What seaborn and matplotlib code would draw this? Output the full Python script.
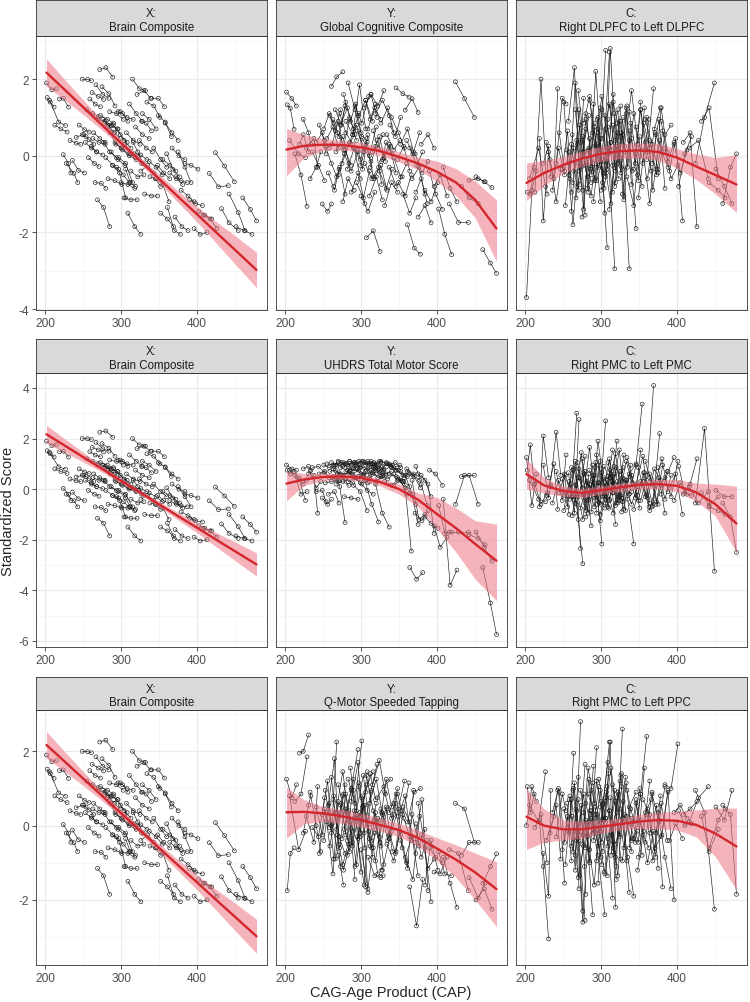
import numpy as np
import pandas as pd
import matplotlib
matplotlib.use("Agg")
import matplotlib.pyplot as plt
from matplotlib.ticker import MultipleLocator
import seaborn as sns

# CAP at each visit, one list per subject (shared by all measures)
cap = [[202,209,215],[203,207,212],[206,218,227],[213,221,229],[219,224,231],
       [224,231,234],[228,238,243],[233,241,247],[236,244,252],[241,249,254],
       [245,252,258],[249,256,261],[251,258,264],[253,261,268],[255,263,270],
       [257,265,271],[259,266,273],[261,268,276],[262,270,277],[264,272,279],
       [266,274,280],[267,276,284],[269,277,285],[270,279,287],[272,280,289],
       [273,282,290],[275,284,292],[277,285,294],[278,287,296],[280,289,297],
       [282,291,299],[283,292,301],[285,294,303],[287,296,305],[289,298,306],
       [290,299,308],[292,301,310],[294,303,311],[295,304,313],[297,306,315],
       [299,308,316],[300,309,318],[302,311,320],[304,313,321],[305,314,323],
       [307,316,325],[309,318,326],[311,320,328],[313,322,330],[315,324,332],
       [317,326,334],[319,328,337],[321,330,339],[324,333,341],[326,335,343],
       [328,337,346],[331,340,348],[334,343,351],[337,346,354],[340,349,357],
       [343,352,360],[346,355,363],[349,358,366],[352,361,369],[355,364,372],
       [358,367,375],[361,370,378],[364,373,381],[367,376,384],[371,380,388],
       [375,384,392],[379,388,396],[384,392,401],[390,398,407],[396,404,413],
       [402,410,419],[408,417,426],[416,428,441],[424,436,449],[432,442,454],
       [442,454,463],[451,462,472],[460,470,478],[263,271,279],[276,283,291],
       [286,293,300],[296,302,309],[306,312,319],[316,322,329],[327,333,340],
       [338,345,352],[348,356,364],[360,368,377],[372,379,387],[312,319,327]]

brain = [[1.90,1.72,1.75],[1.52,1.40,1.27],[1.45,0.88,0.79],[0.80,0.70,0.62],[1.48,1.50,1.27],
         [0.03,-0.20,-0.45],[-0.20,-0.46,-0.70],[0.40,0.33,0.30],[-0.12,-0.38,-0.45],[0.48,0.55,0.50],
         [0.80,0.68,0.62],[2.00,1.99,1.96],[0.55,0.42,0.30],[0.35,0.20,0.10],[1.20,1.10,1.02],
         [-0.05,-0.20,-0.28],[1.48,1.35,1.28],[0.25,0.10,0.02],[1.65,1.55,1.47],[0.60,0.45,0.35],
         [-0.70,-0.72,-0.85],[1.85,1.60,1.50],[-1.15,-1.35,-1.85],[0.95,0.90,0.80],[2.25,2.30,2.05],
         [1.05,0.95,0.85],[1.80,1.62,1.30],[0.35,0.10,-0.05],[0.85,0.78,0.70],[-0.05,-0.25,-0.35],
         [0.75,0.60,0.45],[-0.60,-0.65,-0.75],[1.15,1.10,0.95],[0.10,-0.10,-0.25],[-0.25,-0.45,-1.10],
         [0.80,0.55,0.35],[0.35,0.20,0.05],[-0.30,-0.50,-0.70],[0.70,0.40,0.20],[-0.05,-0.20,-0.70],
         [1.15,1.00,0.95],[-0.70,-0.75,-0.85],[0.15,0.00,-0.10],[-1.10,-1.15,-1.15],[0.30,0.05,-0.05],
         [0.60,0.40,0.30],[-1.50,-1.85,-2.05],[1.35,1.10,0.90],[-0.40,-0.55,-0.50],[2.00,1.75,1.70],
         [0.05,0.02,-0.10],[0.75,0.55,0.45],[1.60,1.70,1.50],[0.40,0.20,0.10],[-0.40,-0.25,-0.45],
         [1.10,0.95,0.70],[-1.00,-1.05,-1.05],[1.40,1.30,1.00],[-0.15,-0.30,-0.50],[1.50,1.50,1.28],
         [0.20,-0.10,-0.30],[-0.60,-0.75,-1.20],[1.05,0.88,0.50],[-1.50,-1.65,-1.85],[-0.10,-0.25,-0.40],
         [0.85,0.60,0.40],[-1.35,-1.95,-2.05],[-0.45,-0.60,-0.75],[0.20,0.00,-0.10],[-1.60,-1.85,-1.95],
         [0.10,-0.30,-0.70],[-0.90,-1.05,-1.20],[-0.20,-0.25,-0.35],[-1.15,-1.25,-1.30],[-1.90,-2.05,-2.00],
         [-1.45,-1.55,-1.65],[-1.55,-1.65,-1.90],[-0.46,-0.81,-0.78],[0.08,-0.27,-0.68],[-1.38,-1.75,-1.95],
         [-1.00,-1.48,-1.96],[-1.85,-1.95,-2.05],[-1.10,-1.40,-1.70],[0.45,0.35,0.30],[0.95,0.80,0.60],
         [0.60,0.30,0.20],[1.15,1.10,0.90],[-0.35,-0.70,-0.80],[0.35,0.10,-0.20],[0.90,0.85,0.65],
         [-0.55,-0.60,-0.80],[-0.25,-0.45,-0.60],[0.05,-0.35,-0.55],[-0.55,-0.65,-0.70],[0.05,-0.05,-0.20]]

gcog = [[1.66,1.49,1.30],[1.33,1.24,0.69],[0.40,0.05,-0.05],[0.05,-0.50,-1.32],[0.30,0.55,0.10],
        [0.95,0.60,0.30],[0.20,0.45,-0.30],[-0.60,-0.30,0.10],[0.10,-0.25,-0.65],[0.35,0.60,0.05],
        [0.80,0.40,0.20],[-1.26,-1.45,-1.26],[0.70,1.10,0.85],[0.25,-0.20,-0.55],[0.45,0.75,0.20],
        [-0.45,-0.90,-0.35],[1.05,0.65,1.20],[1.81,2.06,2.19],[0.30,0.90,0.15],[-0.80,-0.30,-1.00],
        [1.20,0.80,1.40],[0.10,0.50,-0.20],[0.60,0.25,0.95],[-0.50,0.15,-0.25],[1.10,0.60,0.30],
        [0.80,1.25,0.70],[-0.20,0.30,0.55],[1.60,1.00,0.40],[0.05,-0.40,0.10],[0.90,0.55,1.10],
        [-0.35,0.20,-0.60],[1.90,1.20,0.50],[0.35,0.80,0.10],[-0.95,-0.45,-1.25],[0.55,1.85,0.70],
        [0.20,-0.10,0.45],[1.30,0.85,1.55],[-0.70,-1.10,-0.40],[0.65,0.20,-0.15],[1.05,1.45,0.90],
        [-0.25,0.35,-0.55],[-1.05,-1.45,-0.95],[0.45,0.00,0.75],[1.25,1.60,1.00],[-0.20,-0.60,-0.30],
        [-2.14,-1.96,-2.50],[0.70,1.25,0.95],[-1.05,-0.55,-1.15],[1.60,1.30,1.70],[0.10,0.50,-0.15],
        [-0.60,-0.25,-0.90],[1.10,1.45,1.05],[0.40,-0.05,0.25],[-0.40,-0.85,-0.35],[0.85,1.25,0.60],
        [-0.10,0.30,-0.45],[-1.30,-0.70,-0.95],[0.55,0.15,0.40],[-0.30,-0.80,-0.55],[1.00,0.60,0.20],
        [-0.05,-0.55,-0.20],[1.77,1.62,1.53],[-0.70,-1.05,-0.50],[0.30,0.70,0.10],[-1.00,-1.50,-1.10],
        [1.19,1.49,1.13],[-1.80,-2.41,-2.57],[0.20,-0.25,0.10],[-0.60,-0.30,-1.00],[0.05,-0.45,-0.15],
        [-1.60,-1.30,-1.75],[0.30,0.55,0.20],[-0.90,-1.20,-0.70],[-0.40,-1.00,-1.40],[-0.80,-0.50,-1.05],
        [-1.39,-2.05,-2.58],[-0.30,-0.85,-1.20],[-1.26,-1.74,-1.74],[1.93,1.49,1.00],[-0.80,-1.10,-1.25],
        [-0.64,-0.60,-0.68],[-0.55,-0.68,-0.83],[-2.45,-2.80,-3.07],[0.95,0.50,1.30],[-1.20,-0.60,-0.90],
        [0.90,1.35,0.60],[0.15,-0.35,0.55],[1.45,0.95,1.35],[0.65,0.20,0.55],[-0.15,0.35,0.05],
        [0.80,0.50,1.00],[-0.10,0.25,-0.40],[0.40,0.05,0.60],[-0.95,-0.60,-1.25],[-0.30,0.25,-0.75]]

dlpfc = [[-3.70,-0.90,-0.40],[-0.95,-1.00,-0.30],[-0.60,0.20,-0.80],[-0.95,2.00,-1.00],[0.45,-1.70,0.10],
         [-0.20,0.25,-0.55],[0.35,-0.60,1.75],[-0.10,-1.20,-0.35],[-0.90,0.20,-0.50],[-0.20,1.50,1.35],
         [0.60,-0.40,0.10],[-0.35,0.65,-0.95],[1.40,-0.50,0.20],[-1.30,0.30,-0.80],[0.15,-1.80,-0.20],
         [0.90,2.30,-0.40],[-0.60,1.90,0.35],[-1.45,0.40,-0.90],[0.55,-0.90,1.50],[-0.40,0.80,-1.55],
         [1.20,-0.30,0.70],[-1.10,0.10,1.05],[0.30,-1.40,0.45],[1.70,0.10,-0.70],[-0.75,0.95,-0.20],
         [0.40,-0.55,1.35],[-1.60,0.20,-0.65],[0.85,1.55,-0.30],[-0.20,-1.05,0.60],[1.10,-0.40,0.25],
         [-0.85,0.75,-1.20],[0.15,-0.60,1.20],[1.45,0.30,-0.45],[-0.50,1.00,-1.50],[0.60,-0.25,2.75],
         [-1.20,0.45,-2.40],[0.25,1.55,0.05],[-0.65,-0.10,2.70],[0.95,-0.85,0.35],[-0.30,0.70,-0.95],
         [1.25,-0.35,1.60],[-0.90,0.20,-2.95],[0.45,1.35,-0.25],[-0.15,-1.25,0.85],[1.05,0.15,-0.60],
         [-0.45,1.40,0.50],[0.75,-0.80,1.30],[-1.40,0.25,-0.35],[0.35,1.20,-1.05],[-0.25,0.90,0.10],
         [1.10,-0.45,1.30],[-0.70,0.55,-2.95],[0.60,-1.15,0.85],[-0.05,1.25,-0.40],[0.90,-0.30,1.10],
         [-1.00,0.40,-1.90],[0.25,1.70,0.30],[-0.55,-1.30,0.50],[1.15,0.05,-0.80],[0.45,-0.65,1.25],
         [-0.35,1.20,-0.10],[0.75,-0.20,0.95],[-1.10,0.35,-0.40],[1.20,0.10,1.75],[0.15,-1.25,0.55],
         [0.95,0.30,-0.35],[-0.60,0.70,1.25],[0.40,-0.50,0.65],[-0.20,0.95,-0.85],[0.60,0.10,-0.30],
         [-0.45,0.55,0.80],[0.90,-0.15,0.35],[0.20,-0.60,-0.25],[-0.40,0.45,-1.70],[0.30,-0.45,0.15],
         [-0.80,0.05,0.50],[0.35,0.60,-1.85],[0.20,0.40,-0.60],[-0.20,1.00,1.90],[0.90,1.25,-0.60],
         [-0.70,-0.90,-1.10],[-0.35,-0.80,-1.25],[-1.25,-0.30,0.05],[-0.70,1.20,-0.25],[0.50,-0.95,0.85],
         [-0.35,2.20,0.15],[0.70,-0.70,0.95],[-0.55,2.80,0.40],[0.80,-0.20,1.00],[-0.30,1.10,-0.75],
         [0.65,-0.20,1.40],[-0.50,0.85,0.20],[1.00,-0.90,0.40],[-0.35,1.25,0.10],[1.30,-0.40,0.60]]

uhdrs = [[0.95,0.80,0.75],[0.75,0.60,0.70],[0.75,0.45,-0.45],[0.55,-0.20,-0.10],[0.40,0.20,0.60],
         [0.80,0.90,0.75],[0.35,0.55,-0.95],[0.70,0.05,0.30],[0.85,0.90,0.65],[-0.10,-0.05,-0.50],
         [0.60,0.70,0.45],[-0.35,-0.60,-0.40],[0.95,0.85,0.90],[0.25,0.30,0.35],[1.00,0.95,1.05],
         [-0.20,-0.10,-0.55],[0.70,0.75,0.60],[1.05,0.95,0.90],[0.45,0.35,0.50],[0.80,0.10,-1.32],
         [0.95,1.05,1.00],[0.20,0.30,0.15],[0.60,0.55,0.70],[1.10,1.00,0.95],[0.35,0.40,0.25],
         [0.85,0.75,0.80],[0.55,0.65,0.45],[1.05,1.10,0.95],[-0.30,-0.35,-0.40],[0.70,0.60,0.75],
         [0.95,1.05,0.85],[0.30,0.45,0.20],[1.10,1.05,1.10],[0.60,0.50,0.35],[0.85,0.95,0.70],
         [0.15,-0.10,-0.85],[1.00,1.10,0.95],[0.45,0.55,0.30],[0.80,0.60,0.65],[1.10,1.05,1.00],
         [0.25,-0.05,-0.20],[0.90,0.80,0.85],[0.55,0.45,0.60],[1.05,1.10,0.95],[0.35,-0.60,-1.30],
         [0.75,0.85,0.65],[1.10,1.00,1.05],[0.40,0.30,0.50],[0.95,0.90,0.80],[0.65,0.70,0.55],
         [1.05,1.10,1.00],[0.20,-0.95,-1.50],[0.85,0.75,0.90],[1.10,1.05,0.95],[0.50,0.40,0.60],
         [0.90,1.00,0.75],[0.30,0.15,0.35],[1.00,0.85,0.95],[0.60,0.50,0.30],[0.85,0.75,0.45],
         [0.15,0.35,-0.20],[0.75,0.55,0.65],[0.40,0.05,-2.45],[0.70,0.50,0.60],[0.30,-0.15,-0.60],
         [0.55,-0.20,-1.40],[0.70,0.50,0.05],[-3.10,-3.56,-3.30],[0.35,-1.20,-1.00],[-0.95,-1.25,-0.85],
         [0.60,0.35,-0.30],[0.55,0.20,-1.75],[-1.10,-1.35,-1.55],[0.75,0.60,0.15],[-1.45,-2.30,-1.90],
         [-0.65,-1.75,-1.70],[-0.40,-3.80,-3.20],[-1.70,-1.70,-1.70],[-0.60,0.55,0.55],[0.50,0.55,-0.60],
         [-1.80,-1.95,-2.20],[-1.70,-2.30,-2.85],[-3.10,-4.50,-5.75],[0.50,0.65,0.40],[0.95,0.90,1.05],
         [0.75,0.80,0.60],[0.40,0.50,0.25],[0.95,1.00,0.90],[0.70,0.45,0.55],[0.85,0.60,0.70],
         [0.95,1.05,0.85],[0.45,0.30,0.10],[0.80,0.55,0.35],[0.90,0.20,-0.65],[0.60,0.80,0.70]]

pmc = [[1.25,-0.65,0.60],[0.75,1.75,0.20],[0.35,-0.40,-0.50],[0.20,-0.60,-0.15],[-0.70,2.10,0.45],
       [0.95,-0.35,0.15],[-0.25,1.00,-0.80],[0.10,2.25,0.55],[-0.55,0.35,-0.25],[0.70,-0.45,1.35],
       [-0.15,0.60,-1.00],[0.40,-0.70,0.85],[-0.85,0.30,-0.40],[0.55,-0.30,3.00],[-0.25,0.75,-1.20],
       [0.65,-0.95,2.75],[-0.40,1.10,-2.35],[0.20,-0.60,-2.95],[-1.05,0.45,0.05],[0.80,-0.20,1.30],
       [-0.55,1.45,-0.75],[0.15,-1.20,0.60],[1.05,-0.35,0.20],[-0.30,0.70,-1.45],[0.45,-0.85,0.95],
       [-0.75,0.25,-0.10],[1.20,-0.40,0.55],[-0.20,1.65,-0.95],[0.60,-0.15,0.25],[-1.10,0.40,-0.50],
       [0.30,-0.70,1.10],[-0.45,0.85,-2.17],[0.75,-0.30,0.40],[-0.90,1.90,-0.20],[0.10,-0.55,2.70],
       [0.55,-1.25,0.15],[-0.35,0.65,-0.75],[1.35,0.05,-0.45],[-0.60,0.90,0.30],[0.25,-0.40,1.55],
       [-1.00,0.35,-0.15],[0.80,-0.70,0.60],[-0.25,1.20,-0.55],[0.45,-0.10,1.90],[-0.75,0.50,-0.30],
       [0.15,-0.95,0.70],[1.05,0.20,-0.45],[-0.40,0.85,0.05],[0.60,-0.55,1.35],[-0.15,1.55,-0.85],
       [0.90,-0.25,0.35],[-0.65,0.45,-0.20],[0.30,-0.80,0.95],[-0.30,1.10,0.25],[0.70,-0.40,-2.17],
       [-0.50,0.60,1.00],[0.40,-0.60,0.10],[1.25,0.20,-0.75],[-0.20,0.95,3.36],[0.55,-0.45,0.65],
       [-0.80,0.30,-0.25],[0.20,1.30,-0.70],[0.85,-0.30,0.40],[-0.45,0.55,4.10],[0.30,-0.85,0.15],
       [1.10,0.20,-0.60],[-0.35,0.80,0.35],[0.60,-0.50,0.95],[-0.70,0.45,-0.95],[0.25,1.20,-0.10],
       [0.85,-0.40,0.55],[-0.20,0.70,1.25],[0.45,-0.30,1.10],[0.05,0.60,-1.00],[-0.45,0.25,-0.20],
       [0.90,-0.15,-0.25],[-0.20,0.20,1.20],[0.10,-0.55,-0.10],[-0.55,2.40,-3.25],[-0.15,-0.65,-0.30],
       [-0.70,-0.85,-1.00],[-0.05,-0.30,-0.30],[-0.55,-1.10,-2.50],[-0.30,0.80,-0.55],[0.65,-0.95,0.25],
       [-0.15,1.05,-0.60],[0.95,-0.30,0.50],[-0.55,0.75,-1.40],[0.25,-0.45,0.85],[-0.90,0.35,-0.10],
       [0.50,-0.35,1.55],[-0.25,0.65,-0.55],[0.35,-0.65,2.20],[-0.60,0.15,0.70],[0.45,1.40,-0.35]]

qmotor = [[1.25,0.75,1.10],[-1.75,-0.75,-0.60],[0.80,-0.65,-0.15],[0.65,0.85,1.85],[1.95,2.00,2.44],
          [-0.20,0.55,0.80],[0.25,-0.45,1.05],[0.90,0.00,-0.70],[-0.05,-0.30,0.75],[0.50,-0.25,0.35],
          [-0.75,0.45,-0.05],[0.30,1.20,0.00],[-0.40,0.60,-0.90],[0.95,-0.20,2.25],[0.10,-1.30,0.65],
          [0.55,1.80,-0.50],[-0.55,0.35,-1.10],[1.30,-0.10,0.80],[0.05,-0.80,-1.60],[0.80,0.25,1.10],
          [-0.90,0.60,-0.25],[0.35,1.45,0.20],[-0.25,-1.20,-0.50],[1.10,0.30,0.95],[-0.60,0.85,-0.15],
          [0.55,-0.40,1.25],[-0.35,0.40,-1.45],[0.85,-0.70,0.30],[-0.10,1.00,2.05],[0.45,-0.55,1.15],
          [-0.80,0.20,-0.30],[1.25,0.60,2.28],[0.10,-1.05,0.55],[0.65,1.70,-0.60],[-0.45,0.35,-1.65],
          [0.95,-0.20,1.45],[-1.10,0.75,-0.15],[0.40,1.35,0.05],[-0.30,-1.60,0.90],[1.05,0.15,-0.85],
          [0.25,1.10,1.45],[-0.65,-1.70,-0.20],[0.80,-0.35,0.60],[-0.20,0.95,1.65],[0.55,-0.60,0.15],
          [1.35,0.40,-0.45],[-0.85,-1.35,-1.40],[0.60,1.25,0.30],[-0.40,0.20,-1.05],[1.10,1.75,0.85],
          [0.15,-0.55,0.45],[-0.95,0.35,-0.25],[0.75,1.05,1.25],[-0.30,0.50,-0.70],[0.45,-0.40,0.30],
          [-1.20,-0.35,0.60],[0.90,0.20,1.00],[-0.50,-0.95,-0.15],[0.35,0.85,-0.60],[-0.15,0.45,1.20],
          [0.60,-0.25,-1.00],[-0.70,0.30,1.15],[0.25,0.80,-0.40],[-0.40,-1.15,0.95],[0.50,0.10,-0.75],
          [-0.85,-0.30,-1.35],[0.10,0.90,1.00],[-1.65,-2.70,-1.45],[0.30,-0.55,-0.10],[-0.45,0.70,-1.75],
          [0.60,-0.60,-2.05],[-0.25,-1.15,-0.90],[-1.60,-0.40,-1.20],[-0.60,-0.85,-1.00],[-1.25,-1.30,-0.85],
          [-0.70,-1.30,-1.35],[-0.85,-1.55,-2.20],[-0.65,-0.75,-1.75],[0.60,0.45,-0.45],[-0.80,-0.45,-0.45],
          [-1.40,-1.95,-1.55],[-2.00,-1.70,-2.25],[-1.55,-1.10,-0.76],[0.70,-0.30,-0.75],[-1.05,-0.50,0.40],
          [1.55,0.20,-1.25],[-0.35,0.50,-1.80],[0.90,1.40,0.70],[-0.60,-1.30,-1.35],[0.35,1.25,0.50],
          [-0.25,-0.75,0.40],[0.85,0.20,-0.30],[-0.95,-1.45,0.25],[0.05,-0.85,-0.40],[-0.55,0.35,-1.20]]

ppc = [[0.00,1.05,0.65],[1.05,0.35,0.85],[0.55,0.10,1.45],[-0.05,0.30,-1.00],[0.15,-1.10,-3.05],
       [-0.75,-1.90,0.95],[-0.40,0.25,0.95],[-0.20,0.55,-0.90],[0.35,1.00,-1.55],[-0.30,0.85,0.40],
       [0.90,-0.45,0.70],[-0.65,0.25,-0.95],[0.45,-0.20,1.95],[-1.05,0.70,-0.40],[0.60,-0.70,1.30],
       [-0.15,1.15,-1.70],[0.80,-1.20,2.80],[-0.55,0.40,-2.30],[0.25,-1.40,-0.55],[1.00,-0.25,1.65],
       [-0.80,0.55,-1.85],[0.45,-2.60,0.10],[-0.35,0.85,-1.00],[0.70,-0.60,0.95],[-1.35,0.15,-2.40],
       [0.95,-0.30,1.60],[-0.50,1.25,-0.15],[0.35,-0.95,2.10],[-1.10,0.40,-0.55],[0.60,-0.20,1.05],
       [-0.25,-1.60,0.50],[0.85,0.30,-1.05],[-0.65,1.20,0.15],[0.20,-0.80,-2.40],[1.15,0.05,0.75],
       [-0.40,0.95,-1.35],[0.50,-0.45,1.40],[-0.95,0.60,2.25],[0.30,-1.25,-0.20],[1.25,0.20,-1.95],
       [-0.15,1.05,-0.60],[0.65,-0.55,0.95],[-0.70,0.40,-1.45],[0.15,1.55,0.35],[-1.30,-0.25,0.85],
       [0.90,-0.70,1.20],[-0.35,0.65,-0.90],[0.40,-1.10,2.60],[-0.80,0.90,0.10],[1.10,-0.30,1.30],
       [0.05,1.35,-0.95],[-0.50,0.20,-1.80],[0.75,-0.60,0.45],[-0.25,1.15,-0.35],[0.45,-0.85,-1.90],
       [-0.95,0.50,0.90],[0.30,-0.40,-0.15],[0.95,0.10,1.00],[-0.60,0.70,-0.80],[0.20,-0.45,1.55],
       [-0.35,0.85,2.40],[0.60,-0.25,-0.60],[-0.85,0.35,0.70],[0.15,-1.00,-0.15],[0.70,0.30,-0.85],
       [-0.45,0.90,-1.15],[0.45,-0.70,0.80],[-0.20,0.55,-1.65],[0.85,0.10,1.05],[-0.60,-0.25,0.90],
       [0.35,-0.85,-1.70],[-0.30,0.95,-2.00],[1.10,1.00,2.20],[-0.40,0.05,-0.35],[0.35,0.55,0.20],
       [0.40,0.00,0.05],[0.30,0.45,0.65],[0.10,0.75,1.05],[0.95,0.35,-2.25],[0.25,-0.70,-0.10],
       [-0.60,0.15,0.45],[0.50,0.15,0.95],[0.55,0.30,-1.85],[0.95,-0.40,-2.55],[-0.25,1.55,0.60],
       [0.40,-0.20,-0.85],[-1.55,0.55,1.70],[0.20,2.25,-2.20],[-0.45,-1.35,0.65],[1.40,0.25,-0.70],
       [0.05,-0.45,0.85],[-1.20,-0.15,1.20],[0.30,-0.95,0.15],[-0.20,0.60,-0.40],[0.75,-0.85,1.05]]

# smooth fits (estimate, lower, upper) read at these CAP values
fit_cap = [202, 225, 250, 275, 300, 325, 350, 375, 400, 425, 450, 478]
brain_fit = [2.17, 1.74, 1.27, 0.80, 0.33, -0.13, -0.60, -1.07, -1.53, -2.00, -2.46, -2.98]
brain_lo = [1.81, 1.47, 1.08, 0.67, 0.23, -0.22, -0.71, -1.22, -1.73, -2.28, -2.83, -3.44]
brain_hi = [2.53, 2.01, 1.46, 0.93, 0.43, -0.04, -0.49, -0.92, -1.33, -1.72, -2.09, -2.52]
gcog_fit = [0.16, 0.26, 0.29, 0.28, 0.22, 0.12, -0.03, -0.20, -0.42, -0.70, -1.15, -1.90]
gcog_lo = [-0.52, -0.05, 0.14, 0.15, 0.10, 0.00, -0.16, -0.36, -0.68, -1.05, -1.62, -2.76]
gcog_hi = [0.71, 0.55, 0.45, 0.40, 0.34, 0.24, 0.10, -0.04, -0.14, -0.34, -0.66, -1.15]
dlpfc_fit = [-0.71, -0.45, -0.24, -0.07, 0.05, 0.12, 0.14, 0.10, -0.05, -0.28, -0.50, -0.75]
dlpfc_lo = [-1.17, -0.78, -0.46, -0.27, -0.15, -0.08, -0.06, -0.12, -0.32, -0.62, -0.99, -1.48]
dlpfc_hi = [-0.19, -0.12, -0.02, 0.12, 0.25, 0.32, 0.34, 0.32, 0.18, 0.05, -0.05, 0.03]
uhdrs_fit = [0.22, 0.38, 0.48, 0.50, 0.45, 0.28, 0.00, -0.42, -0.99, -1.55, -2.17, -2.83]
uhdrs_lo = [-0.46, 0.15, 0.33, 0.38, 0.32, 0.13, -0.20, -0.70, -1.58, -2.50, -3.56, -4.41]
uhdrs_hi = [0.72, 0.62, 0.62, 0.62, 0.58, 0.42, 0.20, -0.15, -0.33, -0.75, -1.25, -1.38]
pmc_fit = [0.59, 0.15, -0.07, -0.15, -0.04, 0.07, 0.17, 0.20, 0.13, -0.13, -0.59, -1.36]
pmc_lo = [0.00, -0.15, -0.28, -0.33, -0.20, -0.10, 0.00, 0.02, -0.10, -0.48, -1.05, -2.50]
pmc_hi = [1.19, 0.45, 0.12, 0.02, 0.13, 0.23, 0.33, 0.38, 0.38, 0.24, 0.20, 0.12]
qmotor_fit = [0.36, 0.37, 0.33, 0.25, 0.15, 0.02, -0.12, -0.33, -0.62, -0.92, -1.26, -1.71]
qmotor_lo = [-0.34, 0.05, 0.11, 0.06, -0.04, -0.15, -0.30, -0.55, -0.95, -1.40, -2.00, -2.72]
qmotor_hi = [1.03, 0.70, 0.51, 0.43, 0.33, 0.20, 0.06, -0.12, -0.33, -0.52, -0.74, -0.97]
ppc_fit = [0.24, 0.00, -0.10, -0.10, -0.03, 0.04, 0.11, 0.15, 0.13, 0.02, -0.21, -0.56]
ppc_lo = [-0.64, -0.45, -0.39, -0.35, -0.20, -0.12, -0.08, -0.08, -0.12, -0.30, -0.83, -1.73]
ppc_hi = [1.00, 0.45, 0.15, 0.12, 0.15, 0.20, 0.30, 0.36, 0.38, 0.42, 0.47, 0.47]

titles = [["X:\nBrain Composite", "Y:\nGlobal Cognitive Composite", "C:\nRight DLPFC to Left DLPFC"],
          ["X:\nBrain Composite", "Y:\nUHDRS Total Motor Score", "C:\nRight PMC to Left PMC"],
          ["X:\nBrain Composite", "Y:\nQ-Motor Speeded Tapping", "C:\nRight PMC to Left PPC"]]

brain_set = (brain, brain_fit, brain_lo, brain_hi)
grid_data = [[brain_set, (gcog, gcog_fit, gcog_lo, gcog_hi), (dlpfc, dlpfc_fit, dlpfc_lo, dlpfc_hi)],
             [brain_set, (uhdrs, uhdrs_fit, uhdrs_lo, uhdrs_hi), (pmc, pmc_fit, pmc_lo, pmc_hi)],
             [brain_set, (qmotor, qmotor_fit, qmotor_lo, qmotor_hi), (ppc, ppc_fit, ppc_lo, ppc_hi)]]


def long_df(values):
    rows = []
    for sid, (cs, vs) in enumerate(zip(cap, values)):
        assert len(cs) == len(vs)
        for c, v in zip(cs, vs):
            rows.append((sid, c, v))
    return pd.DataFrame(rows, columns=["subject", "cap", "score"])


sns.set_style("white")
plt.rcParams["font.family"] = ["Liberation Sans", "DejaVu Sans"]
plt.rcParams["axes.unicode_minus"] = False

W, H = 750, 1003
fig = plt.figure(figsize=(W / 100, H / 100), dpi=100)

col_left = [36, 276, 516]
col_w = 231
panel_rows = [(37, 311), (374, 648), (711, 966)]
strip_rows = [(1, 37), (340, 374), (678, 711)]

xall = [c for cs in cap for c in cs]
xpad = 0.05 * (max(xall) - min(xall))
xlim = (min(xall) - xpad, max(xall) + xpad)

RED = "#D4262D"
PINK = "#ED7785"   # drawn at alpha 0.55 over the points -> light pink band

for r in range(3):
    # shared y range per row, from data and ribbons (5% padding like ggplot)
    vals = []
    for vals_set, fit, lo, hi in grid_data[r]:
        vals += [v for vs in vals_set for v in vs] + lo + hi
    ypad = 0.05 * (max(vals) - min(vals))
    ylim = (min(vals) - ypad, max(vals) + ypad)

    for c in range(3):
        top, bot = panel_rows[r]
        ax = fig.add_axes([col_left[c] / W, 1 - bot / H, col_w / W, (bot - top) / H])
        vals_set, fit, lo, hi = grid_data[r][c]
        df = long_df(vals_set)

        sns.lineplot(data=df, x="cap", y="score", units="subject", estimator=None,
                     sort=False, color="#1A1A1A", linewidth=0.45, ax=ax)
        sns.scatterplot(data=df, x="cap", y="score", marker="o", s=8,
                        facecolors="none", edgecolor="#1A1A1A", linewidth=0.45, ax=ax, zorder=3)
        ax.fill_between(fit_cap, lo, hi, color=PINK, alpha=0.55, linewidth=0, zorder=4)
        sns.lineplot(x=fit_cap, y=fit, color=RED, linewidth=1.7, ax=ax, zorder=5)

        ax.set_xlim(xlim)
        ax.set_ylim(ylim)
        ax.set(xlabel="", ylabel="")
        ax.xaxis.set_major_locator(MultipleLocator(100))
        ax.xaxis.set_minor_locator(MultipleLocator(50))
        ax.yaxis.set_major_locator(MultipleLocator(2))
        ax.yaxis.set_minor_locator(MultipleLocator(1))
        ax.grid(which="major", color="#EBEBEB", linewidth=0.8)
        ax.grid(which="minor", color="#F3F3F3", linewidth=0.5)
        ax.set_axisbelow(True)
        ax.tick_params(which="major", length=3, width=0.6, color="#333333",
                       labelsize=8.6, labelcolor="#4D4D4D", pad=2)
        ax.tick_params(which="minor", length=0)
        ax.tick_params(axis="x", bottom=True)
        if c == 0:
            ax.tick_params(axis="y", left=True)
        else:
            ax.tick_params(axis="y", left=False, labelleft=False)
        for sp in ax.spines.values():
            sp.set_color("#333333")
            sp.set_linewidth(0.6)

        stop, sbot = strip_rows[r]
        sax = fig.add_axes([col_left[c] / W, 1 - sbot / H, col_w / W, (sbot - stop) / H])
        sax.set_facecolor("#D9D9D9")
        sax.set_xticks([])
        sax.set_yticks([])
        for sp in sax.spines.values():
            sp.set_color("#333333")
            sp.set_linewidth(0.6)
        sax.text(0.5, 0.44, titles[r][c], ha="center", va="center", fontsize=8.3,
                 color="#1A1A1A", linespacing=1.2, transform=sax.transAxes)

fig.text(8.5 / W, 1 - 511 / H, "Standardized Score", rotation=90, ha="center",
         va="center", fontsize=10.5)
fig.text(391 / W, 1 - 993 / H, "CAG-Age Product (CAP)", ha="center", va="center",
         fontsize=10.5)

fig.savefig("out.png", dpi=100)
